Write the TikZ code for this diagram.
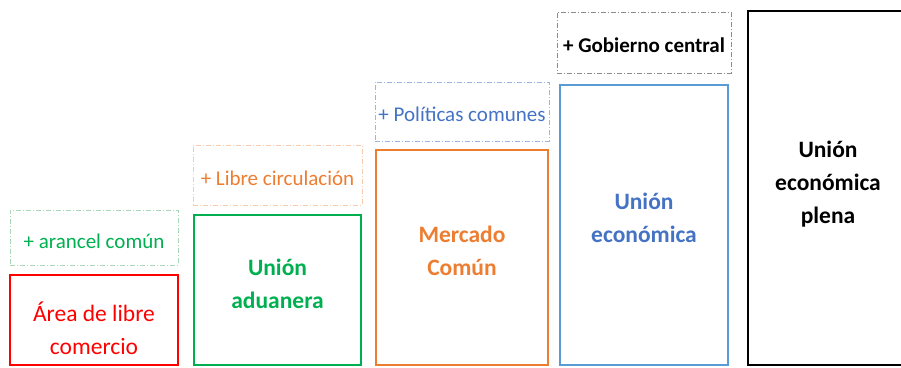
\documentclass[tikz,border=0pt]{standalone}
\usepackage{fontspec}
\setmainfont{Carlito}
\usepackage{xcolor}
\usetikzlibrary{positioning}

\definecolor{rojo}{HTML}{FF0000}
\definecolor{verde}{HTML}{00B050}
\definecolor{naranja}{HTML}{ED7D31}
\definecolor{azul}{HTML}{4472C4}
\definecolor{azulborde}{HTML}{5B9BD5}
\definecolor{verdeclaro}{HTML}{A9D8B8}
\definecolor{naranjaclaro}{HTML}{F8CBAD}
\definecolor{azulclaro}{HTML}{9DB5E0}
\definecolor{grisclaro}{HTML}{8C8C8C}

\tikzset{
  etapa/.style={draw,line width=1.8pt,inner sep=0pt,outer sep=0pt},
  texto/.style={align=center,inner sep=0pt,font=\bfseries\fontsize{23.5}{33}\selectfont},
  extra/.style={draw,line width=0.7pt,dash pattern=on 5pt off 2pt on 1pt off 2pt,
    inner sep=0pt,outer sep=0pt,text height=21pt,text depth=0pt,
    font=\fontsize{21}{24}\selectfont}
}

\begin{document}
\begin{tikzpicture}[x=1pt,y=1pt]
    \useasboundingbox (0,0) rectangle (901,367);

    % the five stages
    \node [etapa,draw=rojo,minimum width=168pt,minimum height=90pt] (libre) at (94,47) {};
    \node [etapa,draw=verde,minimum width=167pt,minimum height=150pt] (aduana) at (277.5,77) {};
    \node [etapa,draw=naranja,minimum width=172pt,minimum height=215pt] (mercado) at (462,109.5) {};
    \node [etapa,draw=azulborde,minimum width=168pt,minimum height=280pt] (econ) at (644,142) {};
    \node [etapa,draw=black,minimum width=160pt,minimum height=354pt] (plena) at (828,179) {};

    \node [texto,text=rojo,font=\fontsize{23.5}{33}\selectfont] (librename)
      at ([yshift=-8pt]libre.center) {Área de libre\\comercio};
    \node [texto,text=verde] (aduananame) at ([yshift=6pt]aduana.center) {Unión\\aduanera};
    \node [texto,text=naranja] (mercadoname) at ([yshift=7pt]mercado.center) {Mercado\\Común};
    \node [texto,text=azul] (econname) at ([yshift=7pt]econ.center) {Unión\\económica};
    \node [texto,text=black] (plenaname) at ([yshift=4pt]plena.center) {Unión\\económica\\plena};

    % what each step adds
    \node [extra,draw=verdeclaro,text=verde,minimum width=168pt,minimum height=55pt,
      above=10pt of libre] (arancel) {+ arancel común};
    \node [extra,draw=naranjaclaro,text=naranja,minimum width=169pt,minimum height=60pt,
      above=10pt of aduana] (circulacion) {+ Libre circulación};
    \node [extra,draw=azulclaro,text=azul,minimum width=174pt,minimum height=59pt,
      above=9pt of mercado] (politicas) {+ Políticas comunes};
    \node [extra,draw=grisclaro,text=black,minimum width=174pt,minimum height=61pt,
      font=\bfseries\fontsize{21}{24}\selectfont,
      above=12pt of econ] (gobierno) {+ Gobierno central};
\end{tikzpicture}
\end{document}
